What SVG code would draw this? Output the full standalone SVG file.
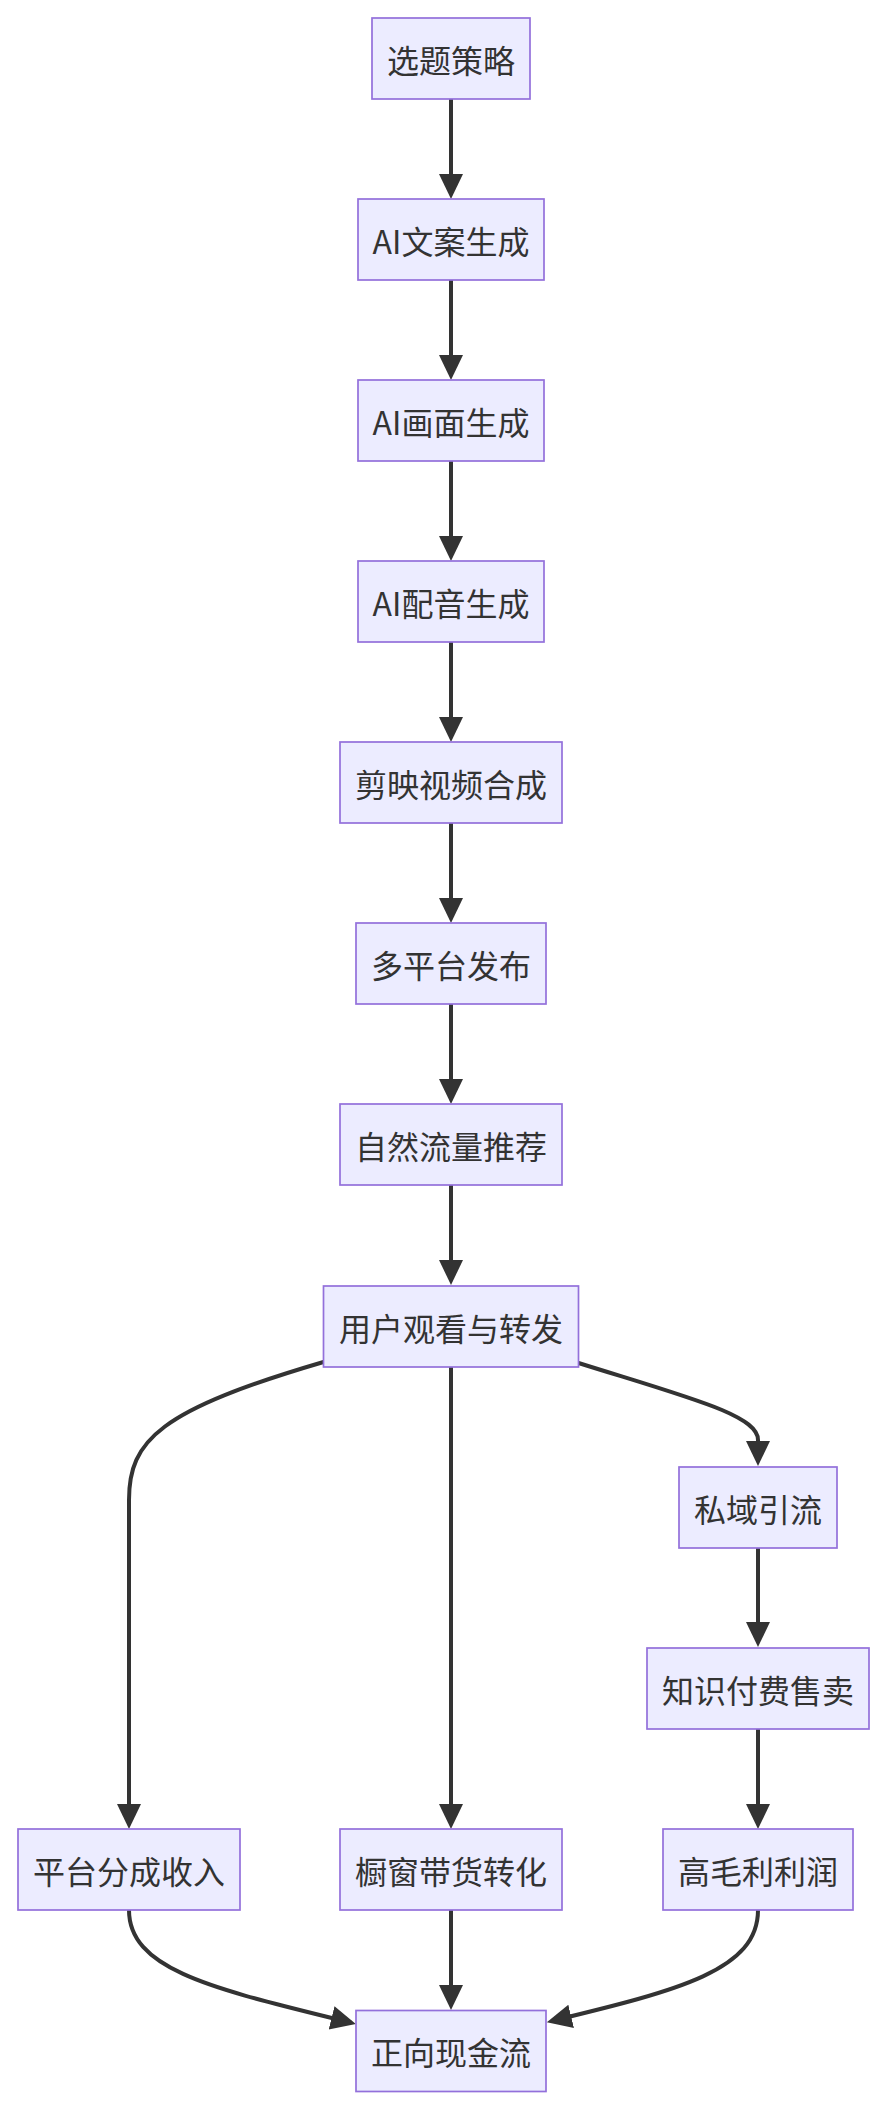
<svg xmlns="http://www.w3.org/2000/svg" width="884" height="2108" viewBox="0 0 884 2108">
<defs>
<style>
.node rect{fill:#ECECFF;stroke:#9370DB;stroke-width:1.7}
.node text{font-family:"Noto Sans CJK SC","Noto Sans",sans-serif;font-size:32px;fill:#333333;text-anchor:middle;dominant-baseline:central}
.edge{fill:none;stroke:#333333;stroke-width:4}
</style>
<marker id="arrow" markerUnits="userSpaceOnUse" markerWidth="26" markerHeight="26" refX="20" refY="12" orient="auto" viewBox="0 0 26 24">
<path d="M0,0 L25,12 L0,24 z" fill="#333333"/>
</marker>
</defs>
<rect width="884" height="2108" fill="#ffffff"/>
<g id="connectors">
<path class="edge" marker-end="url(#arrow)" d="M451,99 L451,194"/>
<path class="edge" marker-end="url(#arrow)" d="M451,280 L451,375"/>
<path class="edge" marker-end="url(#arrow)" d="M451,461 L451,556"/>
<path class="edge" marker-end="url(#arrow)" d="M451,642 L451,737"/>
<path class="edge" marker-end="url(#arrow)" d="M451,823 L451,918"/>
<path class="edge" marker-end="url(#arrow)" d="M451,1004 L451,1099"/>
<path class="edge" marker-end="url(#arrow)" d="M451,1185 L451,1280"/>
<path class="edge" d="M323.5,1362 C160,1410 129,1440 129,1500 L129,1824" marker-end="url(#arrow)"/>
<path class="edge" marker-end="url(#arrow)" d="M451,1367 L451,1824"/>
<path class="edge" marker-end="url(#arrow)" d="M578.5,1363 C690,1398 758,1415 758,1440 L758,1461"/>
<path class="edge" marker-end="url(#arrow)" d="M758,1548 L758,1642"/>
<path class="edge" marker-end="url(#arrow)" d="M758,1729 L758,1824"/>
<path class="edge" marker-end="url(#arrow)" d="M129,1910 C129,1972 220,1990 351,2022.8"/>
<path class="edge" marker-end="url(#arrow)" d="M451,1910 L451,2005"/>
<path class="edge" marker-end="url(#arrow)" d="M758,1910 C758,1970 680,1990 551.7,2021"/>
</g>
<g id="n1" class="node"><rect x="372" y="18" width="158" height="81"/><text x="451" y="58.5">选题策略</text></g>
<g id="n2" class="node"><rect x="358" y="199" width="186" height="81"/><text x="451" y="239.5">AI文案生成</text></g>
<g id="n3" class="node"><rect x="358" y="380" width="186" height="81"/><text x="451" y="420.5">AI画面生成</text></g>
<g id="n4" class="node"><rect x="358" y="561" width="186" height="81"/><text x="451" y="601.5">AI配音生成</text></g>
<g id="n5" class="node"><rect x="340" y="742" width="222" height="81"/><text x="451" y="782.5">剪映视频合成</text></g>
<g id="n6" class="node"><rect x="356" y="923" width="190" height="81"/><text x="451" y="963.5">多平台发布</text></g>
<g id="n7" class="node"><rect x="340" y="1104" width="222" height="81"/><text x="451" y="1144.5">自然流量推荐</text></g>
<g id="n8" class="node"><rect x="323.5" y="1286" width="255" height="81"/><text x="451" y="1326.5">用户观看与转发</text></g>
<g id="n9" class="node"><rect x="679" y="1467" width="158" height="81"/><text x="758" y="1507.5">私域引流</text></g>
<g id="n10" class="node"><rect x="647" y="1648" width="222" height="81"/><text x="758" y="1688.5">知识付费售卖</text></g>
<g id="n11" class="node"><rect x="18" y="1829" width="222" height="81"/><text x="129" y="1869.5">平台分成收入</text></g>
<g id="n12" class="node"><rect x="340" y="1829" width="222" height="81"/><text x="451" y="1869.5">橱窗带货转化</text></g>
<g id="n13" class="node"><rect x="663" y="1829" width="190" height="81"/><text x="758" y="1869.5">高毛利利润</text></g>
<g id="n14" class="node"><rect x="356" y="2010.5" width="190" height="81"/><text x="451" y="2051">正向现金流</text></g>
</svg>
